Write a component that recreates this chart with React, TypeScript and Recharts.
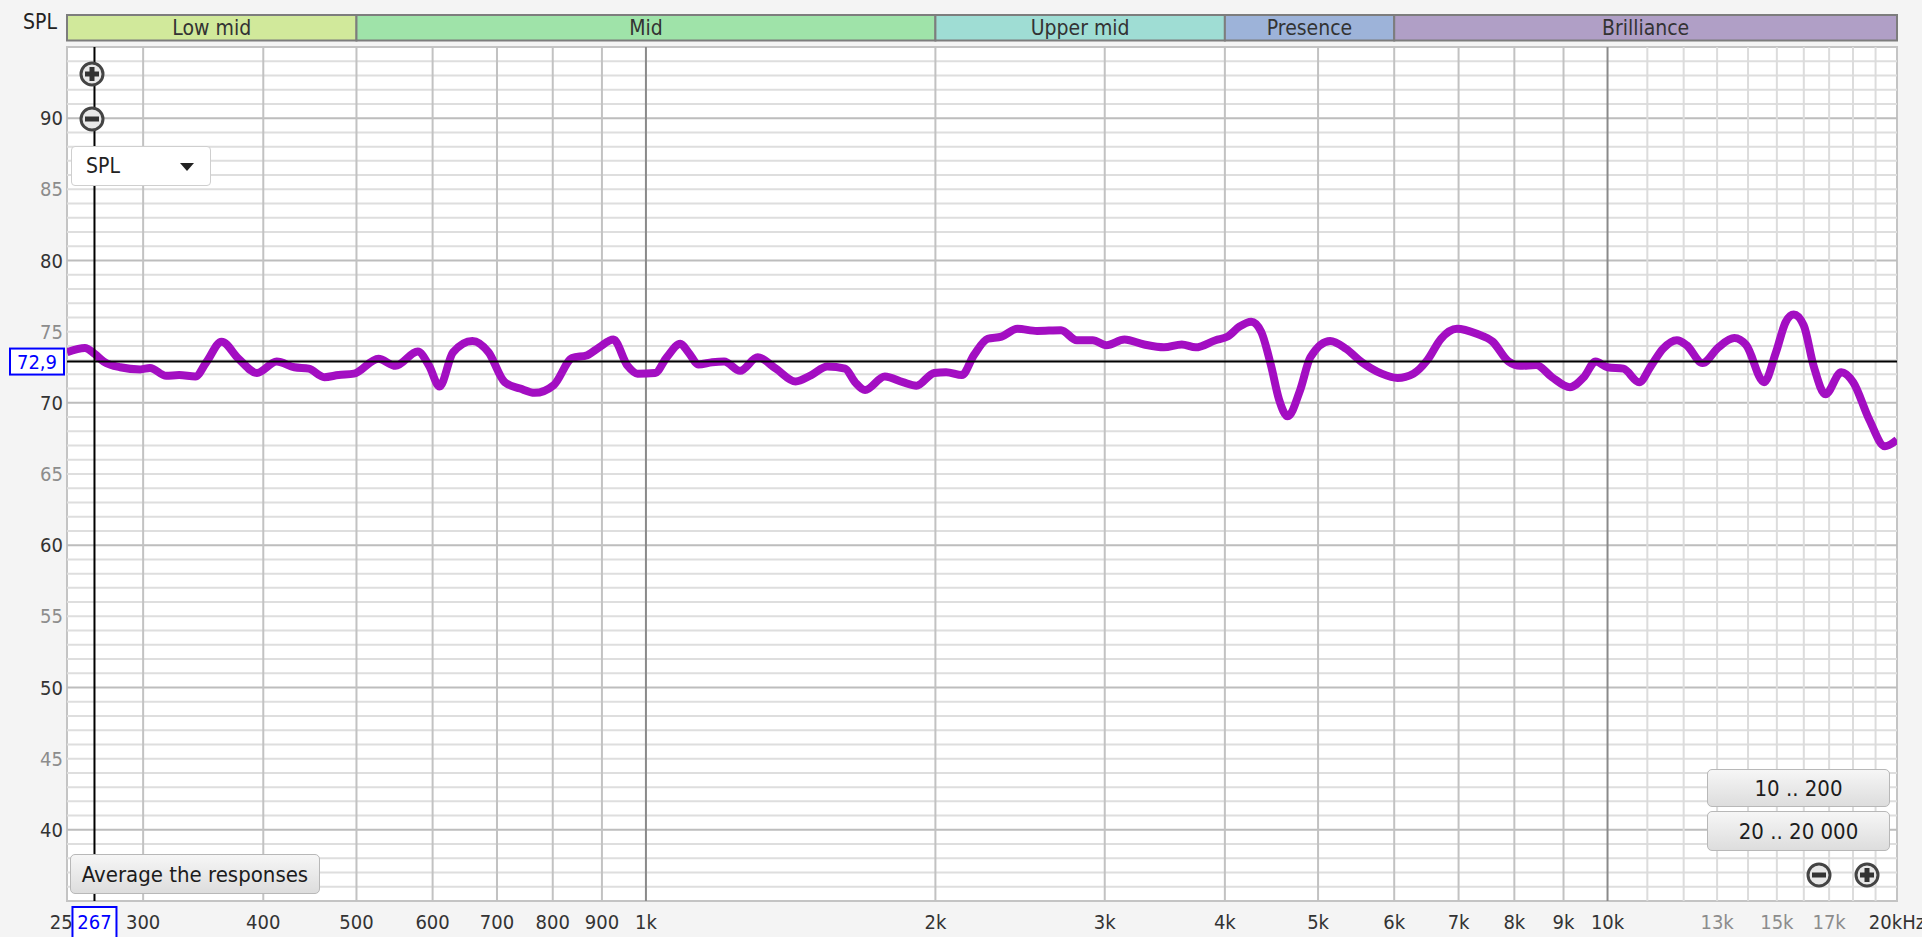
import React from "react"
import { LineChart, Line, XAxis, YAxis, CartesianGrid, ReferenceLine, ReferenceArea } from "recharts"

// frequency response
const freqs = [
  250, 261, 267, 273, 284, 298, 305, 317, 327, 340, 349, 362, 377, 394, 413, 431, 446, 463, 479, 497,
  527, 549, 579, 595, 610, 630, 660, 686, 713, 740, 766, 802, 838, 869, 894, 925, 957, 980,
  1022, 1051, 1086, 1107, 1134, 1172, 1206, 1253, 1307, 1365, 1431, 1486, 1544, 1611, 1650, 1690,
  1772, 1850, 1911, 1994, 2052, 2131, 2193, 2267, 2343, 2434, 2551, 2702, 2806, 2915, 3013, 3145,
  3297, 3457, 3608, 3730, 3912, 4025, 4141, 4261, 4363, 4468, 4553, 4650, 4790, 4909, 5147, 5346,
  5553, 5822, 6048, 6282, 6495, 6711, 6972, 7312, 7595, 7889, 8114, 8428, 8756, 9139, 9447, 9719,
  10000, 10387, 10788, 11099, 11420, 11805, 12086, 12555, 13042, 13547, 13940, 14548, 14967, 15327,
  15619, 15994, 16379, 16850, 17502, 18008, 18707, 19432, 20000,
]
const spl = [
  73.55, 73.85, 73.45, 72.9, 72.5, 72.35, 72.45, 71.9, 71.95, 71.85, 72.85, 74.3, 73.1, 72.1, 72.9, 72.5, 72.4, 71.8, 71.95, 72.05,
  73.1, 72.6, 73.6, 72.6, 71.15, 73.55, 74.35, 73.55, 71.45, 71.0, 70.7, 71.25, 73.15, 73.35, 73.9, 74.45, 72.6, 72.05,
  72.1, 73.2, 74.15, 73.55, 72.7, 72.85, 72.9, 72.25, 73.2, 72.4, 71.5, 71.95, 72.55, 72.4, 71.45, 70.9,
  71.85, 71.45, 71.2, 72.1, 72.15, 71.95, 73.35, 74.5, 74.65, 75.2, 75.05, 75.1, 74.4, 74.4, 74.05, 74.45,
  74.1, 73.9, 74.1, 73.9, 74.4, 74.65, 75.35, 75.7, 75.0, 72.6, 70.25, 69.05, 70.9, 73.2, 74.35, 73.8,
  72.85, 72.05, 71.75, 72.05, 73.0, 74.5, 75.2, 74.85, 74.3, 72.9, 72.6, 72.65, 71.8, 71.1, 71.8, 72.9,
  72.5, 72.4, 71.45, 72.6, 73.8, 74.4, 74.05, 72.8, 73.9, 74.55, 74.05, 71.45, 73.55, 75.7,
  76.2, 75.45, 72.6, 70.6, 72.15, 71.45, 68.85, 66.95, 67.4,
]

const bandNames = ["Low mid", "Mid", "Upper mid", "Presence", "Brilliance"]
const bandEdges = [250, 500, 2000, 4000, 6000, 20000]
const bandColors = ["#d1e99b", "#9fe3a9", "#9fddd4", "#9db3d9", "#b09fc6"]

const freqTicks = [250, 267, 300, 400, 500, 600, 700, 800, 900, 1000, 2000, 3000, 4000, 5000, 6000, 7000, 8000, 9000, 10000, 13000, 15000, 17000, 20000]
const freqLabels = ["250", "267", "300", "400", "500", "600", "700", "800", "900", "1k", "2k", "3k", "4k", "5k", "6k", "7k", "8k", "9k", "10k", "13k", "15k", "17k", "20kHz"]
const faintTicks = [13000, 15000, 17000]
const splTicks = [40, 45, 50, 55, 60, 65, 70, 72.9, 75, 80, 85, 90]

const gridMid = [300, 400, 500, 600, 700, 800, 900, 2000, 3000, 4000, 5000, 6000, 7000, 8000, 9000]
const gridDecade = [1000, 10000]
const gridFine = [11000, 12000, 13000, 14000, 15000, 16000, 17000, 18000, 19000]
const dbMinor = [36, 37, 38, 39, 41, 42, 43, 44, 45, 46, 47, 48, 49, 51, 52, 53, 54, 55, 56, 57, 58, 59, 61, 62, 63, 64, 65, 66, 67, 68, 69, 71, 72, 73, 74, 75, 76, 77, 78, 79, 81, 82, 83, 84, 85, 86, 87, 88, 89, 91, 92, 93, 94]
const dbMajor = [40, 50, 60, 70, 80, 90]

const cursorFreq = 267
const cursorLevel = 72.9

const font = '"DejaVu Sans Condensed", "Liberation Sans Narrow", "Noto Sans", sans-serif'

const data = freqs.map((f, i) => ({ freq: f, spl: spl[i] }))

function XTick(props: any) {
  const { x, y, payload } = props
  const v = payload.value
  const label = freqLabels[freqTicks.indexOf(v)]
  if (v === cursorFreq) {
    return (
      <g>
        <rect x={x - 22} y={y + 6} width={44} height={40} fill="#fff" stroke="#0000ff" strokeWidth={2} />
        <text x={x} y={y + 21} textAnchor="middle" dominantBaseline="central" fill="#0000ff" fontSize={20} fontFamily={font}>
          {label}
        </text>
      </g>
    )
  }
  return (
    <text x={x} y={y + 21} textAnchor="middle" dominantBaseline="central" fill={faintTicks.includes(v) ? "#8c8c8c" : "#333"} fontSize={20} fontFamily={font}>
      {label}
    </text>
  )
}

function YTick(props: any) {
  const { x, y, payload } = props
  const v = payload.value
  if (v === cursorLevel) {
    return (
      <g>
        <rect x={x - 53} y={y - 13} width={54} height={26} fill="#fff" stroke="#0000ff" strokeWidth={2} />
        <text x={x - 26} y={y} textAnchor="middle" dominantBaseline="central" fill="#0000ff" fontSize={20} fontFamily={font}>
          72,9
        </text>
      </g>
    )
  }
  return (
    <text x={x} y={y} textAnchor="end" dominantBaseline="central" fill={v % 10 === 0 ? "#333" : "#8c8c8c"} fontSize={20} fontFamily={font}>
      {v}
    </text>
  )
}

function ZoomIcon({ plus, style }: { plus: boolean; style: React.CSSProperties }) {
  return (
    <svg width={28} height={28} style={{ position: "absolute", ...style }}>
      <circle cx={14} cy={14} r={11} fill="#e8e8e8" stroke="#444" strokeWidth={3} />
      <rect x={7} y={11.5} width={14} height={5} fill="#333" />
      {plus && <rect x={11.5} y={7} width={5} height={14} fill="#333" />}
    </svg>
  )
}

const btn: React.CSSProperties = {
  position: "absolute",
  boxSizing: "border-box",
  background: "linear-gradient(#f6f6f6, #dddddd)",
  border: "1px solid #b8b8b8",
  borderRadius: 5,
  color: "#1c1c1c",
  fontSize: 22,
  display: "flex",
  alignItems: "center",
  justifyContent: "center",
}

export default function App() {
  return (
    <div style={{ position: "relative", width: 1922, height: 937, background: "#f4f4f4", overflow: "hidden", fontFamily: font }}>
      <style>{"body{margin:0}"}</style>
      <LineChart width={1922} height={937} data={data} margin={{ top: 47, right: 25, bottom: 0, left: 0 }}>
        <CartesianGrid horizontal={false} vertical={false} fill="#fff" />
        <XAxis
          dataKey="freq"
          type="number"
          scale="log"
          domain={[250, 20000]}
          allowDataOverflow
          ticks={freqTicks}
          interval={0}
          height={36}
          axisLine={false}
          tickLine={false}
          tickSize={0}
          tickMargin={0}
          tick={<XTick />}
        />
        <YAxis
          type="number"
          domain={[35, 95]}
          allowDataOverflow
          ticks={splTicks}
          interval={0}
          width={67}
          axisLine={false}
          tickLine={false}
          tickSize={0}
          tickMargin={4}
          tick={<YTick />}
        />
        {dbMinor.map((d) => (
          <ReferenceLine key={"m" + d} y={d} stroke="#dedede" strokeWidth={2} />
        ))}
        {dbMajor.map((d) => (
          <ReferenceLine key={"M" + d} y={d} stroke="#bdbdbd" strokeWidth={2} />
        ))}
        {gridFine.map((f) => (
          <ReferenceLine key={"f" + f} x={f} stroke="#dcdcdc" strokeWidth={2} />
        ))}
        {gridMid.map((f) => (
          <ReferenceLine key={"g" + f} x={f} stroke="#c2c2c2" strokeWidth={2} />
        ))}
        {gridDecade.map((f) => (
          <ReferenceLine key={"d" + f} x={f} stroke="#8a8a8a" strokeWidth={2} />
        ))}
        <ReferenceArea x1={250} x2={20000} y1={35} y2={95} fill="none" stroke="#c4c4c4" strokeWidth={2} ifOverflow="visible" />
        {bandNames.map((name, i) => (
          <ReferenceArea
            key={name}
            x1={bandEdges[i]}
            x2={bandEdges[i + 1]}
            y1={95.45}
            y2={97.25}
            ifOverflow="visible"
            fill={bandColors[i]}
            fillOpacity={1}
            stroke="#7d7d7d"
            strokeWidth={2}
            label={{ value: name, position: "center", fill: "#333", fontSize: 21, fontFamily: font }}
          />
        ))}
        <Line type="monotone" dataKey="spl" stroke="#a30ec2" strokeWidth={8} dot={false} isAnimationActive={false} />
        <ReferenceLine y={cursorLevel} stroke="#000" strokeWidth={2} />
        <ReferenceLine x={cursorFreq} stroke="#000" strokeWidth={2} />
      </LineChart>

      <div style={{ position: "absolute", left: 23, top: 10, fontSize: 21, color: "#222" }}>SPL</div>
      <ZoomIcon plus style={{ left: 78, top: 60 }} />
      <ZoomIcon plus={false} style={{ left: 78, top: 105 }} />
      <div
        style={{
          position: "absolute",
          left: 71,
          top: 146,
          width: 140,
          height: 40,
          boxSizing: "border-box",
          background: "#fff",
          border: "1px solid #cfcfcf",
          borderRadius: 4,
          fontSize: 21,
          color: "#222",
          paddingLeft: 14,
          display: "flex",
          alignItems: "center",
        }}
      >
        SPL
        <svg width={14} height={9} style={{ position: "absolute", right: 16, top: 16 }}>
          <polygon points="0,0 14,0 7,8" fill="#222" />
        </svg>
      </div>
      <div style={{ ...btn, left: 70, top: 854, width: 250, height: 40 }}>Average the responses</div>
      <div style={{ ...btn, left: 1707, top: 769, width: 183, height: 38 }}>10 .. 200</div>
      <div style={{ ...btn, left: 1707, top: 811, width: 183, height: 40 }}>20 .. 20 000</div>
      <ZoomIcon plus={false} style={{ left: 1805, top: 861 }} />
      <ZoomIcon plus style={{ left: 1853, top: 861 }} />
    </div>
  )
}
